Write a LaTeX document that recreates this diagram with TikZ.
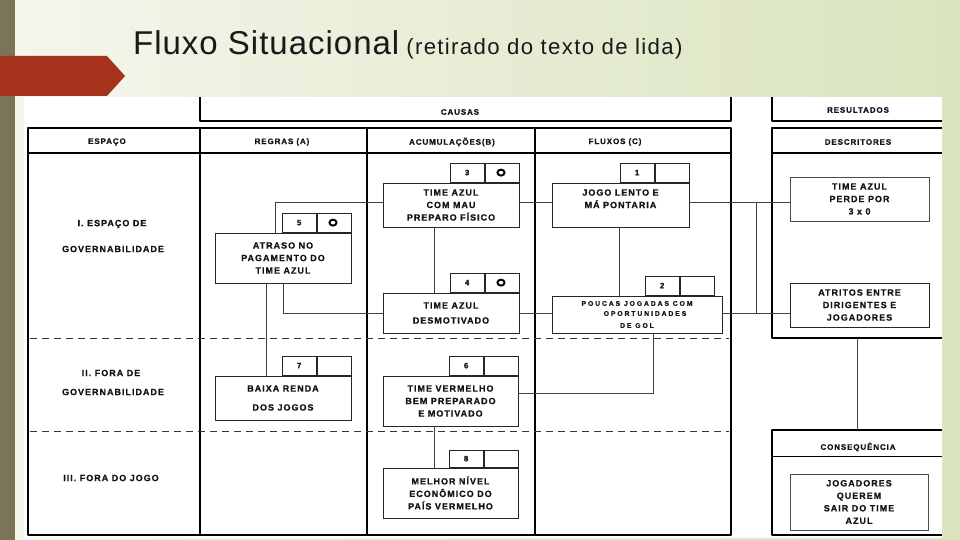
\documentclass[tikz,border=0pt]{standalone}
\usepackage{fontspec}
\setmainfont{Liberation Sans}
\newfontfamily\tf{Liberation Sans Bold}[LetterSpace=11, FakeBold=0.8]
\newfontfamily\tfw{Liberation Sans Bold}[LetterSpace=28, FakeBold=0.6]
\newfontfamily\ttl{Liberation Sans}[LetterSpace=3]
\newfontfamily\ttls{Liberation Sans}[LetterSpace=6]
\definecolor{bgl}{HTML}{F4F6EC}
\definecolor{bgr}{HTML}{DAE4BE}
\definecolor{barc}{HTML}{7B7557}
\definecolor{arrc}{HTML}{A5321A}
\definecolor{ink}{HTML}{141414}
\tikzset{
  frame/.style={line width=1.8pt, black, line join=round},
  thinframe/.style={line width=1pt, black},
  dashline/.style={line width=0.9pt, black!80, dash pattern=on 7pt off 5pt},
  lbl/.style={font=\tf\fontsize{8}{9}\selectfont, text=ink, inner sep=0pt, align=center},
  rowlbl/.style={font=\tf\fontsize{9}{10}\selectfont, text=ink, inner sep=0pt, align=center},
  box/.style={draw=black!85, line width=0.9pt, fill=white, font=\tf\fontsize{9}{12.5}\selectfont, text=ink, align=center, inner sep=0pt},
  tagc/.style={draw=black!85, line width=0.9pt, fill=white, minimum width=34pt, minimum height=19pt, inner sep=0pt, font=\tf\fontsize{7.8}{9}\selectfont, text=ink},
  ringmark/.style={line width=1.9pt, black},
  conn/.style={line width=0.7pt, black!75},
}
\begin{document}
\begin{tikzpicture}[x=1pt,y=-1pt]
\useasboundingbox (0,0) rectangle (960,540);
% background
\shade[left color=bgl, right color=bgr] (0,0) rectangle (960,540);
\fill[barc] (0,0) rectangle (15,540);
\fill[arrc] (0,56) -- (107,56) -- (125,76) -- (107,96) -- (0,96) -- cycle;
\fill[white] (24,97) rectangle (942,538);
% title
\node[anchor=base west, inner sep=0pt, text=black!90] (title) at (133,55)
  {\ttl\fontsize{33}{36}\selectfont Fluxo Situacional\hspace{7pt}{\ttls\fontsize{22.2}{26}\selectfont (retirado do texto de lida)}};
% table frames
\draw[frame] (200,97) -- (200,121) -- (731,121) -- (731,97);
\draw[frame] (772,97) -- (772,121) -- (942,121);
\draw[frame] (28,128) rectangle (731,535);
\draw[frame] (28,153) -- (731,153);
\foreach \xx in {200,367,535} \draw[frame] (\xx,128) -- (\xx,535);
\draw[frame] (942,128) -- (772,128) -- (772,338) -- (942,338);
\draw[frame] (772,153) -- (942,153);
\draw[frame] (942,430) -- (772,430) -- (772,535) -- (942,535);
\draw[thinframe] (772,456) -- (942,456);
\draw[dashline] (30,338) -- (729,338);
\draw[dashline] (30,431) -- (729,431);
% header labels
\node[lbl] (causas) at (460,112) {CAUSAS};
\node[lbl] (result) at (858,110) {RESULTADOS};
\node[lbl] (espaco) at (107,142) {ESPAÇO};
\node[lbl] (regras) at (282,142) {REGRAS (A)};
\node[lbl] (acum) at (452,142) {ACUMULAÇÕES(B)};
\node[lbl] (fluxos) at (615,142) {FLUXOS (C)};
\node[lbl] (descr) at (858,142) {DESCRITORES};
\node[lbl] (conseq) at (858,447) {CONSEQUÊNCIA};
% row labels
\node[rowlbl] (r1a) at (112,224) {I. ESPAÇO DE};
\node[rowlbl] (r1b) at (113,249) {GOVERNABILIDADE};
\node[rowlbl] (r2a) at (111,373) {II. FORA DE};
\node[rowlbl] (r2b) at (113,392) {GOVERNABILIDADE};
\node[rowlbl] (r3) at (111,478) {III. FORA DO JOGO};
% junction coordinates
\coordinate (yA) at (0,202);
\coordinate (yB) at (0,313);
\coordinate (yC) at (0,393);
\coordinate (xA) at (275,0);
\coordinate (xB) at (283,0);
\coordinate (xC) at (434,0);
\coordinate (xD) at (619,0);
\coordinate (xE) at (266,0);
\coordinate (xF) at (653,0);
\coordinate (xJ) at (756,0);
\coordinate (resbot) at (857,338);
\coordinate (cqtop) at (857,430);
% boxes
\node[box, minimum width=136pt, minimum height=50pt] (b5) at (283,258) {ATRASO NO\\PAGAMENTO DO\\TIME AZUL};
\node[box, minimum width=136pt, minimum height=44pt] (b3) at (451,205) {TIME AZUL\\COM MAU\\PREPARO FÍSICO};
\node[box, minimum width=136pt, minimum height=40pt] (b4) at (451,313) {TIME AZUL\\[2.5pt]DESMOTIVADO};
\node[box, minimum width=137pt, minimum height=44pt] (b1) at (620.5,205) {JOGO LENTO E\\MÁ PONTARIA\\\phantom{M}};
\node[box, minimum width=170pt, minimum height=37pt, font=\tfw\fontsize{6.8}{12}\selectfont] (b2) at (637,314.5) {\raisebox{-2pt}{POUCAS JOGADAS COM}\\\hspace*{16pt}OPORTUNIDADES\\DE GOL};
\node[box, minimum width=136pt, minimum height=44pt] (b7) at (283,398) {BAIXA RENDA\\[6.5pt]DOS JOGOS};
\node[box, minimum width=135pt, minimum height=50pt] (b6) at (450.5,401) {TIME VERMELHO\\BEM PREPARADO\\E MOTIVADO};
\node[box, minimum width=135pt, minimum height=50pt] (b9) at (450.5,493) {MELHOR NÍVEL\\ECONÔMICO DO\\PAÍS VERMELHO};
\node[box, minimum width=139pt, minimum height=44pt, line width=0.7pt, draw=black!70] (pd) at (859.5,199) {TIME AZUL\\PERDE POR\\3 x 0};
\node[box, minimum width=139pt, minimum height=44pt] (at) at (859.5,305) {ATRITOS ENTRE\\DIRIGENTES E\\JOGADORES};
\node[box, minimum width=138pt, minimum height=56pt, line width=0.7pt, draw=black!70] (jq) at (859,502) {JOGADORES\\QUEREM\\SAIR DO TIME\\AZUL};
% tags
\node[tagc, anchor=south east] (t5b) at (b5.north east) {};
\node[tagc, anchor=south east] (t5a) at (t5b.south west) {5};
\node[tagc, anchor=south east] (t3b) at (b3.north east) {};
\node[tagc, anchor=south east] (t3a) at (t3b.south west) {3};
\node[tagc, anchor=south east] (t4b) at (b4.north east) {};
\node[tagc, anchor=south east] (t4a) at (t4b.south west) {4};
\node[tagc, anchor=south east] (t1b) at (b1.north east) {};
\node[tagc, anchor=south east] (t1a) at (t1b.south west) {1};
\node[tagc, anchor=south east] (t2b) at ([xshift=-8pt]b2.north east) {};
\node[tagc, anchor=south east] (t2a) at (t2b.south west) {2};
\node[tagc, anchor=south east] (t7b) at (b7.north east) {};
\node[tagc, anchor=south east] (t7a) at (t7b.south west) {7};
\node[tagc, anchor=south east] (t6b) at (b6.north east) {};
\node[tagc, anchor=south east] (t6a) at (t6b.south west) {6};
\node[tagc, anchor=south east, minimum height=17pt] (t9b) at (b9.north east) {};
\node[tagc, anchor=south east, minimum height=17pt] (t9a) at (t9b.south west) {8};
% ring marks
\draw[ringmark] ([xshift=-1pt]t5b.center) ellipse (3.6pt and 3pt);
\draw[ringmark] ([xshift=-1pt]t3b.center) ellipse (3.6pt and 3pt);
\draw[ringmark] ([xshift=-1pt]t4b.center) ellipse (3.6pt and 3pt);
% connectors
\draw[conn] (b5.north -| xA) |- (b3.west |- yA);
\draw[conn] (b3.east |- yA) -- (b1.west |- yA);
\draw[conn] (b1.east |- yA) -- (pd.west |- yA);
\draw[conn] (xJ |- yA) -- (xJ |- yB);
\draw[conn] (b5.south -| xB) |- (b4.west |- yB);
\draw[conn] (b4.east |- yB) -- (b2.west |- yB);
\draw[conn] (b2.east |- yB) -- (at.west |- yB);
\draw[conn] (b3.south -| xC) -- (b4.north -| xC);
\draw[conn] (b1.south -| xD) -- (b2.north -| xD);
\draw[conn] (b5.south -| xE) -- (b7.north -| xE);
\draw[conn] (b2.south -| xF) |- (b6.east |- yC);
\draw[conn] (b6.south -| xC) -- (b9.north -| xC);
\draw[conn] (resbot) -- (cqtop);
\end{tikzpicture}
\end{document}
